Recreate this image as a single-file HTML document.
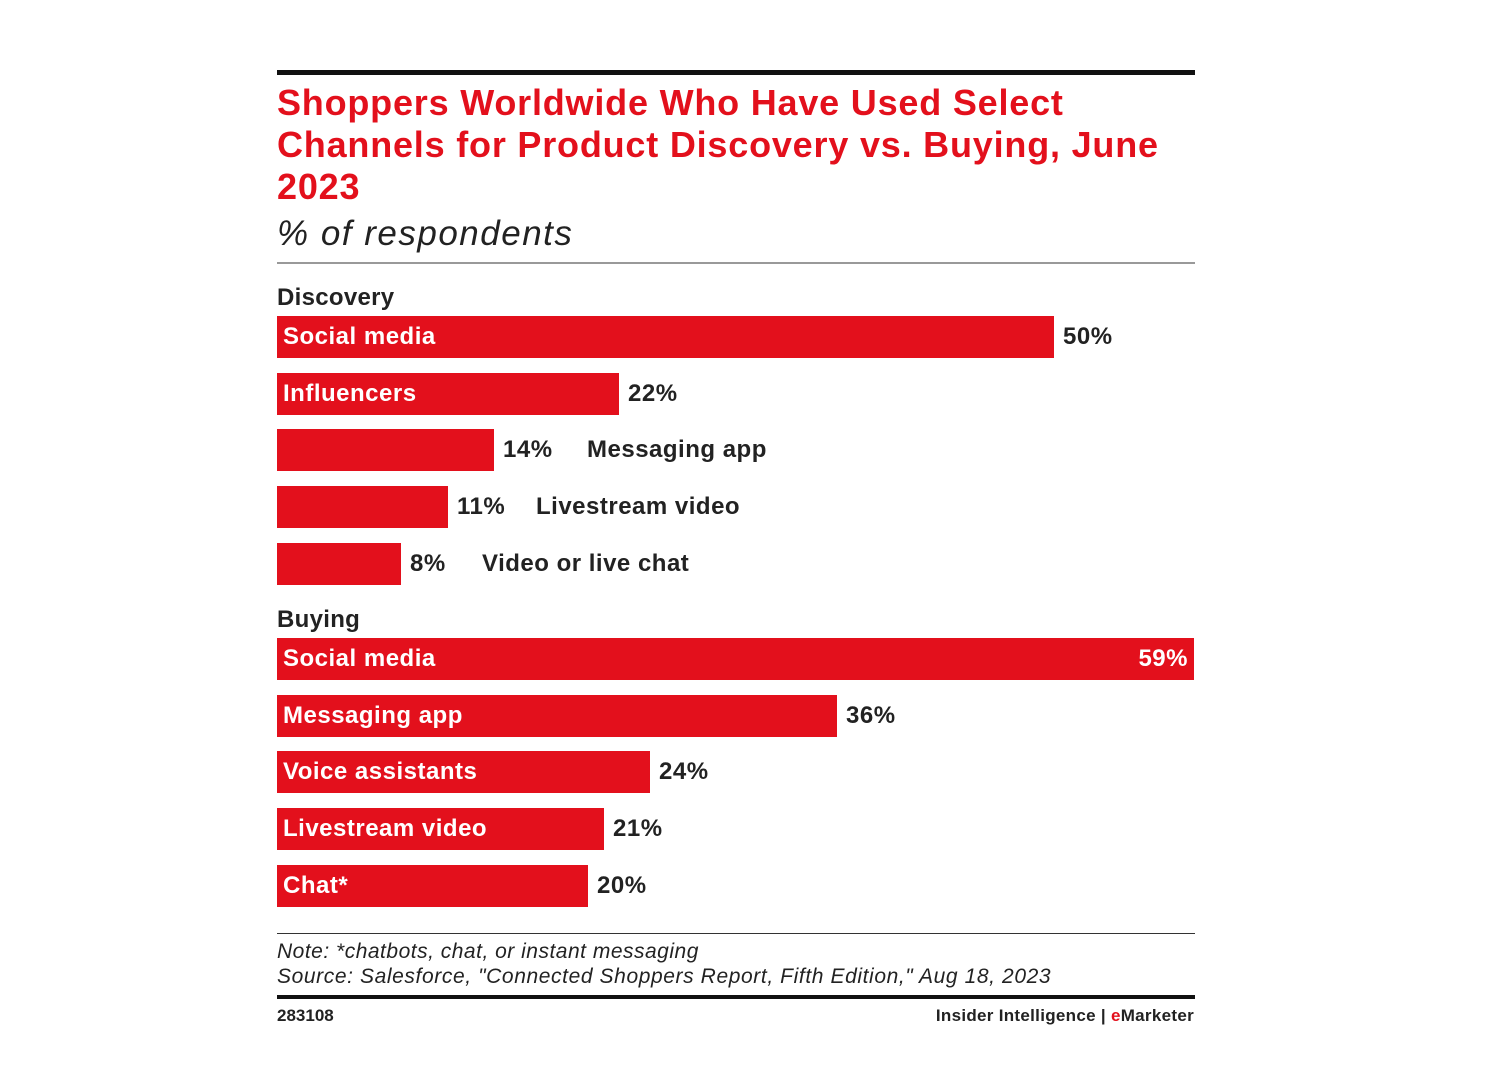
<!DOCTYPE html>
<html><head><style>
body{margin:0;width:1490px;height:1084px;background:#fff;position:relative;font-family:"Liberation Sans",sans-serif;overflow:hidden}
.a{position:absolute;white-space:nowrap}
.bar{position:absolute;left:277px;height:42px;background:#e3101c}
.in{position:absolute;color:#fff;font-weight:bold;font-size:24px;line-height:42px;left:6px;letter-spacing:0.5px}
.v{position:absolute;font-weight:bold;font-size:24px;line-height:42px;color:#222;letter-spacing:0.5px}
.h{position:absolute;left:277px;font-weight:bold;font-size:24px;color:#222;letter-spacing:0.3px}
</style></head><body>
<div class="a" style="left:277px;top:70px;width:918px;height:5px;background:#111"></div>
<div class="a" style="left:277px;top:82px;font-size:36px;line-height:42px;font-weight:bold;color:#e3101c;white-space:normal;width:900px;letter-spacing:0.8px">Shoppers Worldwide Who Have Used Select Channels for Product Discovery vs. Buying, June 2023</div>
<div class="a" style="left:277px;top:214px;font-size:35px;font-style:italic;color:#222;letter-spacing:1.5px">% of respondents</div>
<div class="a" style="left:277px;top:262px;width:918px;height:2px;background:#999"></div>
<div class="h" style="top:284px">Discovery</div>
<div class="bar" style="top:316px;width:777px"><span class="in">Social media</span></div><div class="v" style="top:316px;left:1063px">50%</div>
<div class="bar" style="top:373px;width:342px"><span class="in">Influencers</span></div><div class="v" style="top:373px;left:628px">22%</div>
<div class="bar" style="top:429px;width:217px"></div><div class="v" style="top:429px;left:503px">14%</div><div class="v" style="top:429px;left:587px">Messaging app</div>
<div class="bar" style="top:486px;width:171px"></div><div class="v" style="top:486px;left:457px">11%</div><div class="v" style="top:486px;left:536px">Livestream video</div>
<div class="bar" style="top:543px;width:124px"></div><div class="v" style="top:543px;left:410px">8%</div><div class="v" style="top:543px;left:482px">Video or live chat</div>
<div class="h" style="top:606px">Buying</div>
<div class="bar" style="top:638px;width:917px"><span class="in">Social media</span><span class="in" style="left:auto;right:6px">59%</span></div>
<div class="bar" style="top:695px;width:560px"><span class="in">Messaging app</span></div><div class="v" style="top:695px;left:846px">36%</div>
<div class="bar" style="top:751px;width:373px"><span class="in">Voice assistants</span></div><div class="v" style="top:751px;left:659px">24%</div>
<div class="bar" style="top:808px;width:327px"><span class="in">Livestream video</span></div><div class="v" style="top:808px;left:613px">21%</div>
<div class="bar" style="top:865px;width:311px"><span class="in">Chat*</span></div><div class="v" style="top:865px;left:597px">20%</div>
<div class="a" style="left:277px;top:933px;width:918px;height:1px;background:#333"></div>
<div class="a" style="left:277px;top:940px;font-size:21px;font-style:italic;color:#222;letter-spacing:0.5px">Note: *chatbots, chat, or instant messaging</div>
<div class="a" style="left:277px;top:965px;font-size:21px;font-style:italic;color:#222;letter-spacing:0.6px">Source: Salesforce, "Connected Shoppers Report, Fifth Edition," Aug 18, 2023</div>
<div class="a" style="left:277px;top:995px;width:918px;height:4px;background:#111"></div>
<div class="a" style="left:277px;top:1006px;font-size:17px;font-weight:bold;color:#222">283108</div>
<div class="a" style="right:296px;top:1006px;font-size:17px;font-weight:bold;color:#222;letter-spacing:0.3px">Insider Intelligence | <span style="color:#e3101c">e</span>Marketer</div>
</body></html>
